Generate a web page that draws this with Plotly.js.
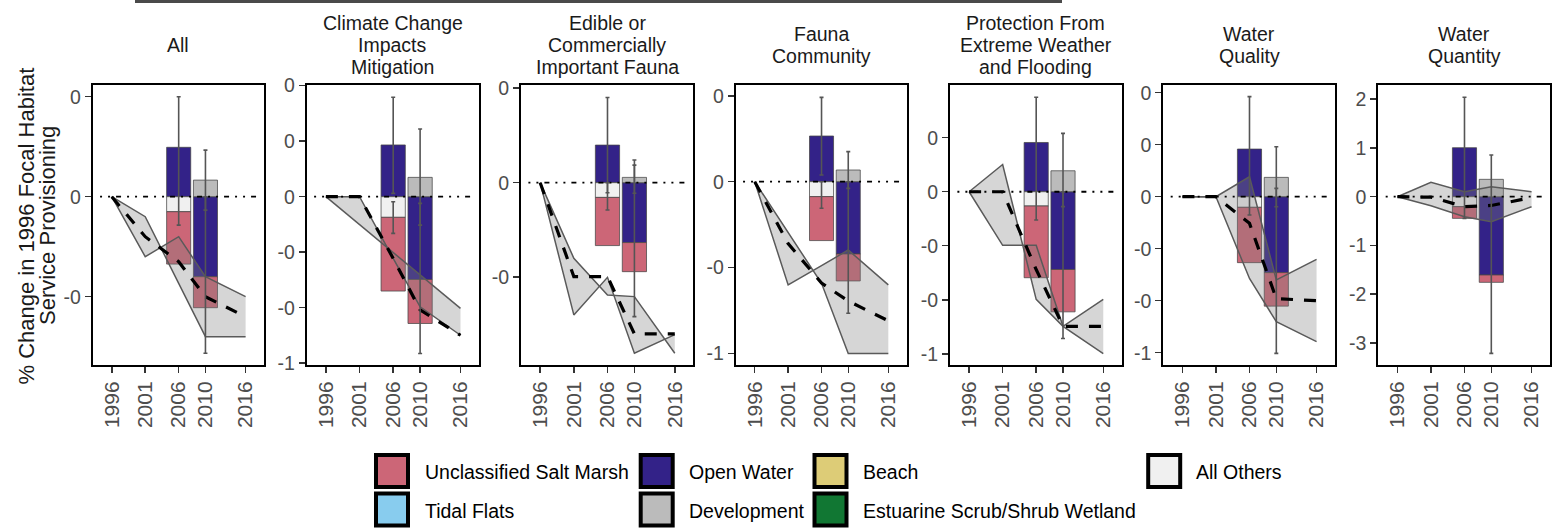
<!DOCTYPE html>
<html><head><meta charset="utf-8">
<script src="https://cdn.plot.ly/plotly-3.0.1.min.js"></script>
<style>html,body{margin:0;padding:0;background:#fff}#chart{width:1567px;height:529px}</style>
</head><body><div id="chart"></div>
<script>
// ---------------- DATA ----------------
const panelTitles = [
  ['All'],
  ['Climate Change', 'Impacts', 'Mitigation'],
  ['Edible or', 'Commercially', 'Important Fauna'],
  ['Fauna', 'Community'],
  ['Protection From', 'Extreme Weather', 'and Flooding'],
  ['Water', 'Quality'],
  ['Water', 'Quantity']
];
const lineYears = [1996, 2001, 2006, 2010, 2016];
const barYears = [2006, 2010];
const xTickVals = [1996, 2001, 2006, 2010, 2016];
const xTickText = ['1996', '2001', '2006', '2010', '2016'];

// stacked bar segments per panel: [2006, 2010]
const openWater   = [[0.247, -0.400], [0.233, -0.373], [0.199, -0.317], [0.266, -0.421], [0.228, -0.360], [0.229, -0.365], [1.005, -1.607]];
const allOthers   = [[-0.075, null], [-0.093, null], [-0.078, null], [-0.087, null], [-0.066, null], [-0.051, null], [-0.205, null]];
const saltMarsh   = [[-0.262, -0.155], [-0.332, -0.198], [-0.255, -0.154], [-0.256, -0.157], [-0.332, -0.196], [-0.266, -0.161], [-0.240, -0.151]];
const development = [[null, 0.083], [null, 0.087], [null, 0.028], [null, 0.068], [null, 0.097], [null, 0.093], [null, 0.356]];

// ribbon bounds and mean line per panel (at lineYears)
const ribbonA = [
  [0, -0.100, -0.433, -0.700, -0.700],
  [0, 0, -0.278, -0.496, -0.624],
  [0, -0.700, -0.501, -0.903, -0.804],
  [0, -0.601, -0.489, -0.398, -0.601],
  [0, 0.126, -0.498, -0.623, -0.749],
  [0, 0, 0.096, -0.400, -0.301],
  [0, 0.294, 0.103, 0.205, 0.103]
];
const ribbonB = [
  [0, -0.300, -0.200, -0.400, -0.500],
  [0, -0.125, -0.252, -0.353, -0.503],
  [0, -0.400, -0.594, -0.603, -0.903],
  [0, -0.295, -0.592, -1.000, -1.000],
  [0, -0.248, -0.248, -0.623, -0.498],
  [0, 0, -0.393, -0.601, -0.697],
  [0, -0.185, -0.410, -0.513, -0.205]
];
const meanChange = [
  [0, -0.200, -0.325, -0.500, -0.600],
  [0, 0, -0.278, -0.510, -0.624],
  [0, -0.497, -0.497, -0.800, -0.800],
  [0, -0.360, -0.590, -0.695, -0.810],
  [0, 0, -0.360, -0.623, -0.623],
  [0, 0, -0.128, -0.490, -0.500],
  [0, -0.010, -0.205, -0.180, -0.020]
];

// error intervals per panel
const errYears = [
  [2006, 2010, 2010],
  [2006, 2006, 2010, 2010],
  [2006, 2006, 2010, 2010],
  [2006, 2006, 2010, 2010],
  [2006, 2010, 2010],
  [2006, 2010, 2010],
  [2006, 2010]
];
const errLow = [
  [-0.142, -0.067, -0.783],
  [0.015, -0.165, -0.128, -0.706],
  [-0.053, -0.145, -0.056, -0.709],
  [0.039, -0.155, -0.039, -0.766],
  [-0.131, -0.069, -0.679],
  [-0.088, -0.048, -0.753],
  [-0.445, -3.215]
];
const errHigh = [
  [0.500, 0.233, 0.000],
  [0.448, -0.023, 0.305, -0.030],
  [0.451, 0.000, 0.120, 0.093],
  [0.491, 0.000, 0.175, 0.000],
  [0.437, 0.270, 0.000],
  [0.481, 0.240, 0.040],
  [2.040, 0.855]
];

// y-axis ticks per panel (labels as printed)
const yTickVals = [
  [0.5, 0, -0.5],
  [0.5, 0.25, 0, -0.25, -0.5, -0.75],
  [0.5, 0, -0.5],
  [0.5, 0, -0.5, -1],
  [0.25, 0, -0.25, -0.5, -0.75],
  [0.5, 0.25, 0, -0.25, -0.5, -0.75],
  [2, 1, 0, -1, -2, -3]
];
const yTickText = [
  ['0', '0', '-0'],
  ['0', '0', '0', '-0', '-0', '-1'],
  ['0', '0', '-0'],
  ['0', '0', '-0', '-1'],
  ['0', '0', '-0', '-0', '-1'],
  ['0', '0', '0', '-0', '-0', '-1'],
  ['2', '1', '0', '-1', '-2', '-3']
];
const zeroLineX = [1994.25, 2017.85];

const legendNames = ['Unclassified Salt Marsh', 'Tidal Flats', 'Open Water', 'Development', 'Beach', 'Estuarine Scrub/Shrub Wetland', 'All Others'];
const legendColors = ['#CC6677', '#88CCEE', '#332288', '#BBBBBB', '#DDCC77', '#117733', '#F0F0F0'];

// ---------------- LAYOUT GEOMETRY ----------------
const W = 1567, H = 529;
const px = v => v / W;
const py = v => 1 - v / H;
const panelX = [[92.7, 264], [306.7, 479], [521, 693.3], [735.7, 906.7], [950, 1121.7], [1163.3, 1335], [1378.3, 1550]];
const yRanges = [[-0.8415, 0.5585], [-0.758, 0.503], [-0.965, 0.517], [-1.0675, 0.563], [-0.802, 0.494], [-0.809, 0.537], [-3.454, 2.292]];
const FONT = '"Liberation Sans", Arial, sans-serif';

const traces = [];
const layout = {
  width: W, height: H,
  margin: {l: 0, r: 0, t: 0, b: 0},
  paper_bgcolor: '#fff', plot_bgcolor: '#fff',
  barmode: 'relative',
  showlegend: false,
  font: {family: FONT, color: '#1A1A1A'},
  annotations: [], shapes: []
};

const barSeries = [
  {vals: openWater, color: '#332288'},
  {vals: allOthers, color: '#F0F0F0'},
  {vals: saltMarsh, color: '#CC6677'},
  {vals: development, color: '#BBBBBB'}
];

for (let i = 0; i < 7; i++) {
  const sfx = i === 0 ? '' : String(i + 1);
  const xa = 'x' + sfx, ya = 'y' + sfx;
  barSeries.forEach(s => {
    traces.push({
      type: 'bar', x: barYears, y: s.vals[i], width: 3.6, xaxis: xa, yaxis: ya,
      marker: {color: s.color, line: {color: 'rgba(70,70,70,0.75)', width: 1}},
      hoverinfo: 'skip'
    });
  });
  // ribbon fill
  traces.push({
    type: 'scatter', mode: 'lines', xaxis: xa, yaxis: ya,
    x: lineYears.concat(lineYears.slice().reverse()),
    y: ribbonA[i].concat(ribbonB[i].slice().reverse()),
    fill: 'toself', fillcolor: 'rgba(128,128,128,0.32)', line: {width: 0}, hoverinfo: 'skip'
  });
  [ribbonA[i], ribbonB[i]].forEach(r => traces.push({
    type: 'scatter', mode: 'lines', xaxis: xa, yaxis: ya, x: lineYears, y: r,
    line: {color: '#5A5A5A', width: 1.5}, hoverinfo: 'skip'
  }));
  traces.push({
    type: 'scatter', mode: 'lines', xaxis: xa, yaxis: ya, x: lineYears, y: meanChange[i],
    line: {color: '#000', width: 3.2, dash: '12px,11px'}, hoverinfo: 'skip'
  });
  traces.push({
    type: 'scatter', mode: 'lines', xaxis: xa, yaxis: ya, x: zeroLineX, y: [0, 0],
    line: {color: '#000', width: 1.8, dash: '2px,6px,2px,6px,5px,6px'}, hoverinfo: 'skip'
  });
  traces.push({
    type: 'scatter', mode: 'markers', xaxis: xa, yaxis: ya,
    x: errYears[i],
    y: errLow[i].map((lo, k) => (lo + errHigh[i][k]) / 2),
    marker: {size: 1, color: 'rgba(0,0,0,0)'},
    error_y: {type: 'data', symmetric: true, array: errLow[i].map((lo, k) => (errHigh[i][k] - lo) / 2),
      color: '#555', thickness: 1.6, width: 2},
    hoverinfo: 'skip'
  });

  layout['xaxis' + sfx] = {
    domain: [px(panelX[i][0]), px(panelX[i][1])], anchor: ya,
    range: [1993.15, 2018.75], tickmode: 'array', tickvals: xTickVals, ticktext: xTickText,
    tickangle: -90, ticks: 'outside', ticklen: 6, tickwidth: 1.5, tickcolor: '#333',
    showline: true, mirror: true, linecolor: '#000', linewidth: 2,
    showgrid: false, zeroline: false,
    tickfont: {family: FONT, size: 21, color: '#4D4D4D'}
  };
  layout['yaxis' + sfx] = {
    domain: [py(365), py(85)], anchor: xa,
    range: yRanges[i], tickmode: 'array', tickvals: yTickVals[i], ticktext: yTickText[i],
    ticks: 'outside', ticklen: 6, tickwidth: 1.5, tickcolor: '#333',
    showline: true, mirror: true, linecolor: '#000', linewidth: 2,
    showgrid: false, zeroline: false,
    tickfont: {family: FONT, size: 19.5, color: '#4D4D4D'}
  };

  // strip titles
  const cx = (panelX[i][0] + panelX[i][1]) / 2;
  const lines = panelTitles[i];
  lines.forEach((t, k) => {
    const yc = 45 + (k - (lines.length - 1) / 2) * 21.7;
    layout.annotations.push({
      text: t, x: px(cx), y: py(yc), xref: 'paper', yref: 'paper',
      xanchor: 'center', yanchor: 'middle', showarrow: false,
      font: {family: FONT, size: 19.5, color: '#1A1A1A'}
    });
  });
}

// y-axis title
[['% Change in 1996 Focal Habitat', 25.5], ['Service Provisioning', 47]].forEach(([t, x]) => {
  layout.annotations.push({
    text: t, x: px(x), y: py(226), xref: 'paper', yref: 'paper',
    xanchor: 'center', yanchor: 'middle', textangle: -90, showarrow: false,
    font: {family: FONT, size: 22, color: '#1A1A1A'}
  });
});

// legend (drawn)
const legCols = [[392, 422.7], [656.7, 686.7], [830.5, 861], [1164.2, 1194.3]];
const legRows = [471, 509.5];
const legPos = [[0, 0], [0, 1], [1, 0], [1, 1], [2, 0], [2, 1], [3, 0]];
legendNames.forEach((name, k) => {
  const [c, r] = legPos[k];
  const sx = legCols[c][0], sy = legRows[r];
  layout.shapes.push({
    type: 'rect', xref: 'paper', yref: 'paper',
    x0: px(sx - 16), x1: px(sx + 16), y0: py(sy + 16), y1: py(sy - 16),
    fillcolor: legendColors[k], line: {color: '#000', width: 4}
  });
  layout.annotations.push({
    text: name, x: px(legCols[c][1]), y: py(sy + 1), xref: 'paper', yref: 'paper',
    xanchor: 'left', yanchor: 'middle', showarrow: false,
    font: {family: FONT, size: 19.5, color: '#000'}
  });
});

// cropped dark strip at the top edge
layout.shapes.push({
  type: 'rect', xref: 'paper', yref: 'paper',
  x0: px(135), x1: px(1062), y0: py(3), y1: py(0),
  fillcolor: '#4A4A4A', line: {width: 0}
});

Plotly.newPlot('chart', traces, layout, {staticPlot: true, displayModeBar: false});
</script>
</body></html>
